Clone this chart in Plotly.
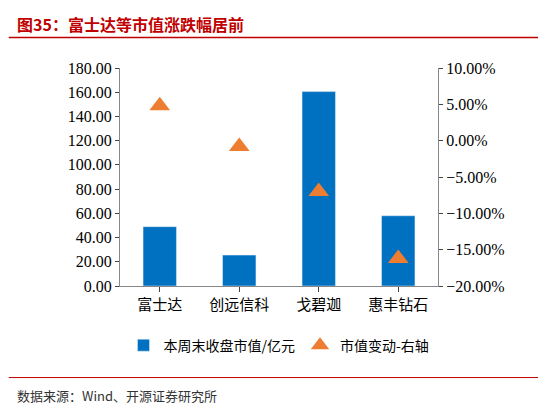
import plotly.graph_objects as go

categories = ["富士达", "创远信科", "戈碧迦", "惠丰钻石"]
market_cap = [49.0, 25.5, 160.5, 58.0]
change_pct = [4.8, -0.8, -7.0, -16.2]

fig = go.Figure()
fig.add_trace(go.Bar(x=categories, y=market_cap, name="本周末收盘市值/亿元",
                     marker_color="#0070c0", width=0.42))
fig.add_trace(go.Scatter(x=categories, y=change_pct, name="市值变动-右轴", yaxis="y2",
                         mode="markers",
                         marker=dict(symbol="triangle-up", size=18, color="#ed7d31")))

num_font = dict(family="Liberation Serif", size=16, color="black")
fig.update_layout(
    width=546, height=405,
    margin=dict(l=112, r=116, t=60, b=127, autoexpand=False),
    plot_bgcolor="white", paper_bgcolor="white",
    showlegend=True,
    legend=dict(orientation="h", x=0.5, xanchor="center", y=-0.2, yanchor="top",
                font=dict(family="Noto Sans CJK SC", size=14, color="black")),
    xaxis=dict(showline=True, linecolor="#888", ticks="outside", ticklen=5,
               tickfont=dict(family="Noto Sans CJK SC", size=15, color="black")),
    yaxis=dict(range=[0, 180], dtick=20, tickformat=".2f", showgrid=False, tickfont=num_font,
               showline=True, linecolor="#888", ticks="outside", ticklen=4),
    yaxis2=dict(range=[-20, 10], dtick=5, overlaying="y", side="right", tickfont=num_font,
                ticksuffix="%", tickformat=".2f", showgrid=False,
                showline=True, linecolor="#888", ticks="outside", ticklen=4),
    shapes=[
        dict(type="line", xref="paper", yref="paper", x0=-0.35, x1=1.32, y0=1.14, y1=1.14,
             line=dict(color="#c00000", width=1.5)),
        dict(type="line", xref="paper", yref="paper", x0=-0.35, x1=1.32, y0=-0.42, y1=-0.42,
             line=dict(color="#c00000", width=1)),
    ],
    annotations=[
        dict(text="<b>图35：富士达等市值涨跌幅居前</b>", xref="paper", yref="paper",
             x=-0.33, y=1.2, xanchor="left", yanchor="middle", showarrow=False,
             font=dict(family="Noto Sans CJK SC", size=16, color="#c00000")),
        dict(text="数据来源：Wind、开源证券研究所", xref="paper", yref="paper",
             x=-0.33, y=-0.5, xanchor="left", yanchor="middle", showarrow=False,
             font=dict(family="Noto Sans CJK SC", size=13, color="#333")),
    ],
)
fig.write_html("out.html")
